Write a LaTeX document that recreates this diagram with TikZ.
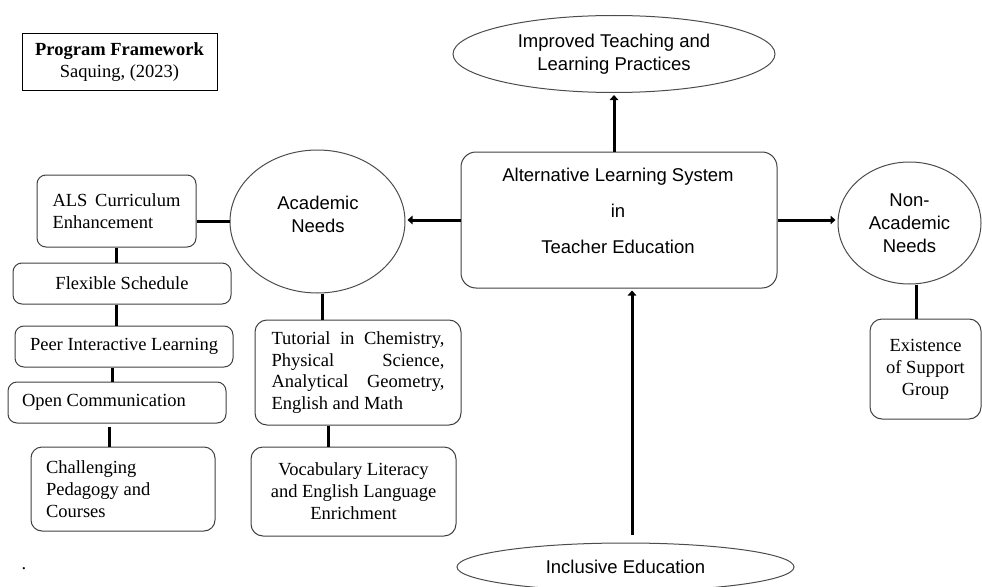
\documentclass[tikz,border=0pt]{standalone}
\usepackage{fontspec}
\setmainfont{Liberation Serif}
\newfontfamily\arialf{Liberation Sans}
\usetikzlibrary{shapes.geometric,arrows.meta}
\newcommand\serifsz{\fontsize{18.5pt}{22pt}\selectfont}
\newcommand\sanssz{\arialf\fontsize{18.5pt}{23pt}\selectfont}
\tikzset{
  box/.style={draw=black!75, line width=1pt, rounded corners=9pt, inner sep=0pt, font=\serifsz, align=center},
  oval/.style={ellipse, draw=black!70, line width=1pt, inner sep=0pt, font=\sanssz, align=center},
  txt/.style={inner sep=0pt, align=center},
  arr/.style={line width=3pt, -{Triangle[length=5pt,width=8.5pt]}, shorten >=2pt},
  thk/.style={line width=3pt},
}
\begin{document}
\begin{tikzpicture}[x=1pt,y=-1pt]
\path[use as bounding box] (0,0) rectangle (982,586);

% title box
\node[box, sharp corners, draw=black, minimum width=195pt, minimum height=56pt] (pf) at (119.5,62) {\textbf{Program Framework}\\Saquing, (2023)};

% ovals
\node[oval, minimum width=322pt, minimum height=77pt] (itl) at (614,54) {Improved Teaching and\\Learning Practices};
\node[oval, minimum width=175pt, minimum height=143pt] (acad) at (317.5,221.5) {};
\node[txt, font=\sanssz] (acadt) at (318,214.5) {Academic\\Needs};
\node[oval, minimum width=143pt, minimum height=122pt] (nonac) at (909.5,223) {Non-\\Academic\\Needs};
\node[oval, minimum width=337pt, minimum height=48pt] (incl) at (625.5,567) {Inclusive Education};

% central box
\node[box, rounded corners=15pt, minimum width=316pt, minimum height=136pt] (als) at (619,220) {};
\node[txt, font=\arialf\fontsize{18.5pt}{36pt}\selectfont] (alst) at (618,211) {Alternative Learning System\\in\\Teacher Education};

% left column
\node[box, minimum width=159pt, minimum height=72pt, text width=128pt, align=justify] (alsce) at (116.5,211) {ALS Curriculum\linebreak Enhancement};
\node[box, minimum width=218pt, minimum height=41pt] (flex) at (122,283.5) {Flexible Schedule};
\node[box, minimum width=218pt, minimum height=41pt] (peer) at (124,346.5) {Peer Interactive Learning};
\node[box, minimum width=218pt, minimum height=41pt, text width=190pt, align=flush left] (open) at (117,402.5) {Open Communication};
\node[box, rounded corners=11pt, minimum width=184pt, minimum height=84pt, text width=154pt, align=flush left] (chall) at (123,489) {Challenging\\Pedagogy and\\Courses};

% middle column
\node[box, rounded corners=12pt, minimum width=206pt, minimum height=105pt, text width=173pt, align=justify, font=\fontsize{18.5pt}{21.5pt}\selectfont] (tut) at (358,372.5) {Tutorial in Chemistry,\linebreak Physical Science,\linebreak Analytical Geometry,\linebreak English and Math};
\node[box, rounded corners=12pt, minimum width=205pt, minimum height=89pt] (voc) at (353.5,491.5) {Vocabulary Literacy\\and English Language\\Enrichment};

% right column
\node[box, rounded corners=12pt, minimum width=111pt, minimum height=100pt] (exist) at (925.5,369) {Existence\\of Support\\Group};

\node[font=\serifsz, inner sep=0pt] (dot) at (24,569) {.};

% arrows
\draw[arr] (als.north -| itl.south) -- (itl.south);
\draw[arr] (als.west) -- (als.west -| acad.east);
\draw[arr] (als.east) -- (als.east -| nonac.west);
\draw[arr, shorten <=8pt] ([xshift=6.5pt]incl.north) -- ([xshift=6.5pt]incl.north |- als.south);

% plain thick links
\draw[thk] (alsce.east |- acad.west) -- (acad.west);
\draw[thk] (alsce.south) -- (alsce.south |- flex.north);
\draw[thk] ([xshift=-6pt]flex.south) -- ([xshift=-6pt]flex.south |- peer.north);
\draw[thk] ([xshift=-12pt]peer.south) -- ([xshift=-12pt]peer.south |- open.north);
\draw[thk, shorten <=3pt] ([xshift=-8pt]open.south) -- ([xshift=-8pt]open.south |- chall.north);
\draw[thk] ([xshift=4.5pt]acad.south) -- ([xshift=4.5pt]acad.south |- tut.north);
\draw[thk] ([xshift=-30pt]tut.south) -- ([xshift=-30pt]tut.south |- voc.north);
\draw[thk] ([xshift=6.5pt]nonac.south) -- ([xshift=6.5pt]nonac.south |- exist.north);
\end{tikzpicture}
\end{document}
